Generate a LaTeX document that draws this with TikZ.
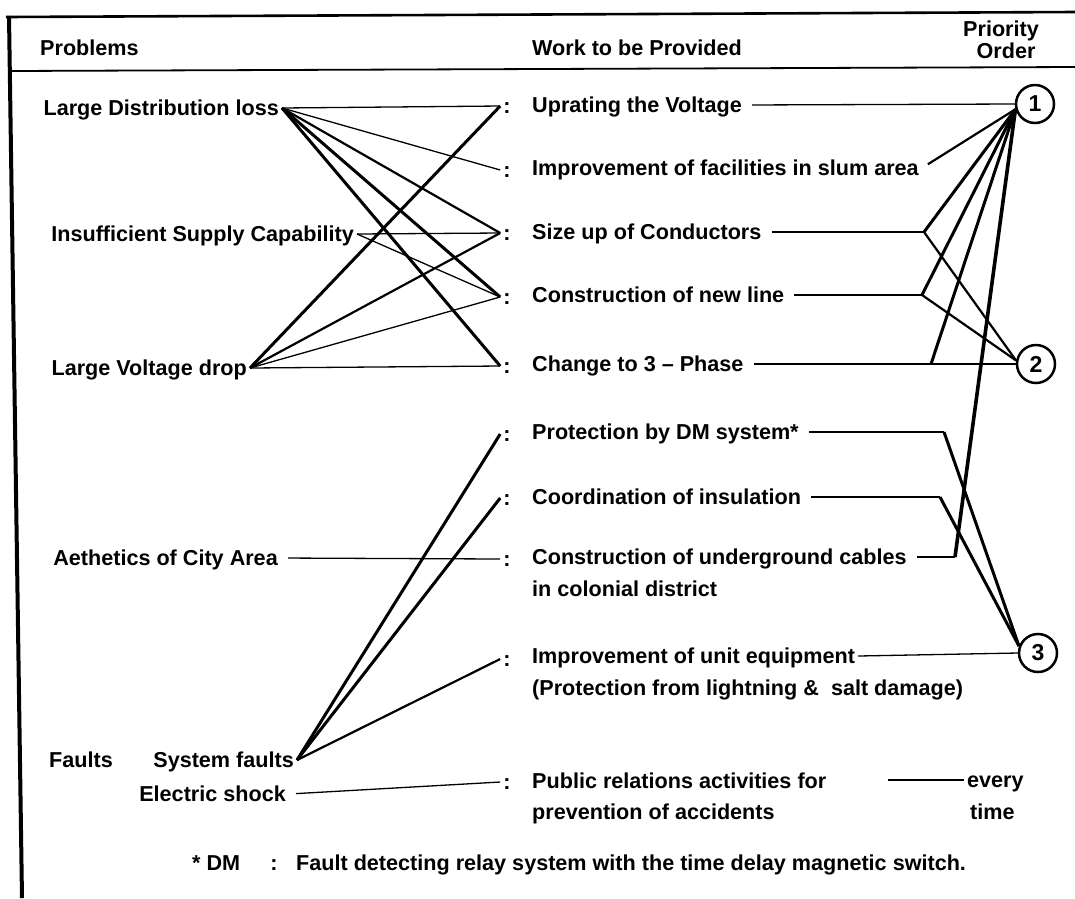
\documentclass[tikz,border=0pt]{standalone}
\usepackage{fontspec}
\setmainfont{Liberation Sans}
\begin{document}
\begin{tikzpicture}[x=1pt,y=-1pt,
  txt/.style={font=\fontsize{21.6}{26}\selectfont\bfseries, inner sep=3pt, text height=16pt, text depth=1pt},
  lnA/.style={line width=1.3pt},
  lnB/.style={line width=2.2pt},
  lnC/.style={line width=3pt},
  lnD/.style={line width=3.6pt},
  prio/.style={circle, draw, line width=2.5pt, minimum size=38pt, inner sep=0pt, font=\fontsize{23}{26}\selectfont\bfseries},
  gapl/.style={shorten <=7pt}
]
\fill[white] (0,0) rectangle (1075,898);
\useasboundingbox (0,0) rectangle (1075,898);

% frame
\draw[line width=2.6pt] (6,17) -- (1075,12);
\draw[line width=1.8pt] (10,71) -- (1075,67);
\draw[line width=4pt] (9,16) -- (22,898);

% headers
\node[txt,anchor=west] (hP) at (37,48) {Problems};
\node[txt,anchor=west] (hW) at (529,48) {Work to be Provided};
\node[txt] (hPr) at (1001,29) {Priority};
\node[txt] (hO) at (1006,51) {Order};

% problems
\node[txt,anchor=east] (LDL) at (282,108) {Large Distribution loss};
\node[txt,anchor=east] (ISC) at (357,234) {Insufficient Supply Capability};
\node[txt,anchor=east] (LVD) at (250,368) {Large Voltage drop};
\node[txt,anchor=east] (AES) at (281,558) {Aethetics of City Area};
\node[txt,anchor=west] (FLT) at (46,760) {Faults};
\node[txt,anchor=east] (SF) at (297,760) {System faults};
\node[txt,anchor=east] (ES) at (289,794) {Electric shock};

% colons
\foreach \n/\y in {1/106,2/170,3/233,4/297,5/366,6/434,7/498,8/559,9/659,10/782}
  \node[txt] (c\n) at (507,\y) {:};

% works
\node[txt,anchor=west] (w1) at (529,105) {Uprating the Voltage};
\node[txt,anchor=west] (w2) at (529,168) {Improvement of facilities in slum area};
\node[txt,anchor=west] (w3) at (529,232) {Size up of Conductors};
\node[txt,anchor=west] (w4) at (529,295) {Construction of new line};
\node[txt,anchor=west] (w5) at (529,364) {Change to 3 -- Phase};
\node[txt,anchor=west] (w6) at (529,432) {Protection by DM system*};
\node[txt,anchor=west] (w7) at (529,497) {Coordination of insulation};
\node[txt,anchor=west] (w8) at (529,557) {Construction of underground cables};
\node[txt,anchor=west] (w8b) at (529,589) {in colonial district};
\node[txt,anchor=west] (w9) at (529,656) {Improvement of unit equipment};
\node[txt,anchor=west] (w9b) at (529,688) {(Protection from lightning \& \ salt damage)};
\node[txt,anchor=west] (w10) at (529,781) {Public relations activities for};
\node[txt,anchor=west] (w10b) at (529,812) {prevention of accidents};

% priorities
\node[prio] (p1) at (1035,104) {1};
\node[prio] (p2) at (1036,364) {2};
\node[prio] (p3) at (1038,653) {3};
\node[txt,anchor=west] (ev) at (964,780) {every};
\node[txt,anchor=west] (tm) at (967,812) {time};

% footnote
\node[txt,anchor=west] (fnA) at (189,863) {* DM};
\node[txt] (fnB) at (274,863) {:};
\node[txt,anchor=west] (fnC) at (293,863) {Fault detecting relay system with the time delay magnetic switch.};

% junctions
\coordinate (j3) at (924,232);
\coordinate (j4) at (922,295);
\coordinate (j5) at (931,364);
\coordinate (j6) at (944,432);
\coordinate (j7) at (940,497);
\coordinate (j8) at (955,557);
\coordinate (e0) at (888,780);

% left connectors
\draw[lnA] (LDL.east) -- (c1.west);
\draw[lnA] (LDL.east) -- (c2.west);
\draw[lnB] (LDL.east) -- (c3.west);
\draw[lnC] (LDL.east) -- (c4.west);
\draw[lnC] (LDL.east) -- (c5.west);
\draw[lnA] (ISC.east) -- (c3.west);
\draw[lnA] (ISC.east) -- (c4.west);
\draw[lnC] (LVD.east) -- (c1.west);
\draw[lnB] (LVD.east) -- (c3.west);
\draw[lnA] (LVD.east) -- (c4.west);
\draw[lnA] (LVD.east) -- (c5.west);
\draw[lnA,gapl] (AES.east) -- (c8.west);
\draw[lnC] (SF.east) -- (c6.west);
\draw[lnC] (SF.east) -- (c7.west);
\draw[lnB] (SF.east) -- (c9.west);
\draw[lnA,gapl] (ES.east) -- (c10.west);

% right connectors
\draw[lnA,gapl] (w1.east) -- (p1.west);
\draw[lnB,gapl] (w2.east) -- (p1.195);
\draw[lnA,gapl] (w3.east) -- (j3);
\draw[lnC] (j3) -- (p1.195);
\draw[lnB] (j3) -- (p2.170);
\draw[lnA,gapl] (w4.east) -- (j4);
\draw[lnC] (j4) -- (p1.195);
\draw[lnB] (j4) -- (p2.170);
\draw[lnA,gapl] (w5.east) -- (p2.west);
\draw[lnC] (j5) -- (p1.195);
\draw[lnA,gapl] (w6.east) -- (j6);
\draw[lnC] (j6) -- (p3.160);
\draw[lnA,gapl] (w7.east) -- (j7);
\draw[lnC] (j7) -- (p3.160);
\draw[lnA,gapl] (w8.east) -- (j8);
\draw[lnD] (j8) -- (p1.195);
\draw[lnA] (w9.east) -- (p3.west);
\draw[lnA] (e0) -- (ev.west);
\end{tikzpicture}
\end{document}
